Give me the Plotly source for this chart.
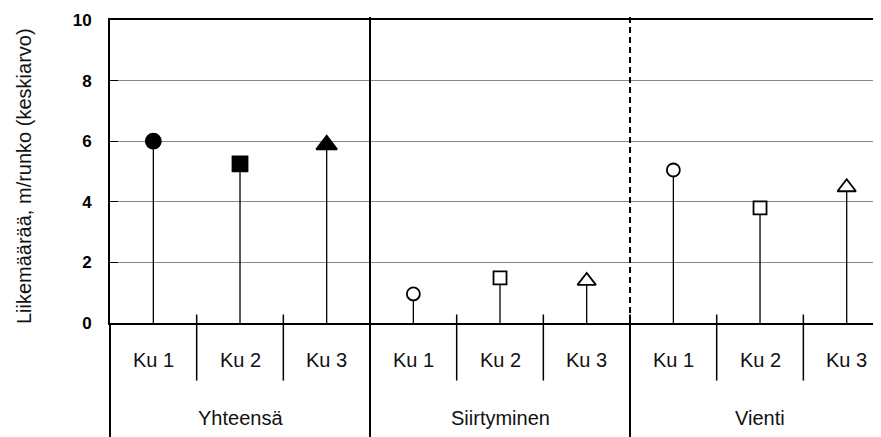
import plotly.graph_objects as go

# data
groups = ["Yhteensä", "Siirtyminen", "Vienti"]
kuviot = ["Ku 1", "Ku 2", "Ku 3"]
yhteensa = [6.0, 5.25, 5.88]
siirtyminen = [0.96, 1.49, 1.39]
vienti = [5.05, 3.80, 4.48]
y_ticks = [0, 2, 4, 6, 8, 10]
y_title = "Liikemäärää, m/runko (keskiarvo)"

series = [yhteensa, siirtyminen, vienti]
symbols = ["circle", "square", "triangle-up"]
sizes = [15, 15, 18]

FONT = "Liberation Sans, Arial, sans-serif"

fig = go.Figure()

# stems
sx, sy = [], []
for g, vals in enumerate(series):
    for k, v in enumerate(vals):
        i = g * 3 + k
        sx += [i, i, None]
        sy += [0, v, None]
fig.add_trace(go.Scatter(x=sx, y=sy, mode="lines",
                         line=dict(color="black", width=1.3),
                         hoverinfo="skip", showlegend=False))

# markers (first group filled, others open)
for g, vals in enumerate(series):
    for k, v in enumerate(vals):
        i = g * 3 + k
        fig.add_trace(go.Scatter(
            x=[i], y=[v], mode="markers", showlegend=False,
            marker=dict(symbol=symbols[k],
                        size=sizes[k] - (0 if g == 0 else 2),
                        color="black" if g == 0 else "white",
                        line=dict(color="black", width=1.8)),
        ))

n = len(groups) * len(kuviot)
fig.update_xaxes(range=[-0.5, -0.5 + 771 / 86.67], showticklabels=False,
                 showgrid=False, zeroline=False, showline=True, mirror=True,
                 linecolor="black", linewidth=2, ticks="", automargin=False)
fig.update_yaxes(range=[0, 10], tickvals=y_ticks, showgrid=True,
                 gridcolor="#888888", gridwidth=1, zeroline=False,
                 showline=True, linecolor="black", linewidth=2,
                 ticks="inside", ticklen=8, tickcolor="black", tickwidth=1,
                 ticklabelstandoff=13, automargin=False,
                 tickfont=dict(family=FONT, size=17, color="black",
                               weight="bold"))

shapes = []
# small separators between categories
for i in range(n - 1):
    if (i + 1) % 3 == 0:
        continue
    shapes.append(dict(type="line", xref="x", yref="paper",
                       x0=i + 0.5, x1=i + 0.5, y0=0.028, y1=-0.19,
                       line=dict(color="black", width=1.5)))
# group separators
shapes.append(dict(type="line", xref="paper", yref="paper", x0=0, x1=0,
                   y0=0, y1=-0.38, line=dict(color="black", width=2)))
shapes.append(dict(type="line", xref="x", yref="paper", x0=2.5, x1=2.5,
                   y0=1.01, y1=-0.38, line=dict(color="black", width=2)))
shapes.append(dict(type="line", xref="x", yref="paper", x0=5.5, x1=5.5,
                   y0=1.01, y1=0.03, line=dict(color="black", width=2,
                                               dash="6px,4px")))
shapes.append(dict(type="line", xref="x", yref="paper", x0=5.5, x1=5.5,
                   y0=0.028, y1=-0.38, line=dict(color="black", width=2)))

annotations = []
for g, name in enumerate(groups):
    for k, ku in enumerate(kuviot):
        annotations.append(dict(x=g * 3 + k, y=-0.122, xref="x", yref="paper",
                                text=ku, showarrow=False,
                                xanchor="center", yanchor="middle",
                                font=dict(family=FONT, size=20, color="#111")))
    annotations.append(dict(x=g * 3 + 1, y=-0.313, xref="x", yref="paper",
                            text=name, showarrow=False,
                            xanchor="center", yanchor="middle",
                            font=dict(family=FONT, size=20, color="#111")))
annotations.append(dict(x=-0.1115, y=0.485, xref="paper", yref="paper",
                        text=y_title, textangle=-90, showarrow=False,
                        xanchor="center", yanchor="middle",
                        font=dict(family=FONT, size=20, color="#111")))

# page body has an 8px margin, so the figure is 8px smaller each way
fig.update_layout(width=873, height=429, autosize=False,
                  margin=dict(l=102, r=0, t=12, b=114),
                  plot_bgcolor="white", paper_bgcolor="white",
                  shapes=shapes, annotations=annotations, showlegend=False)

fig.write_html("out.html")
